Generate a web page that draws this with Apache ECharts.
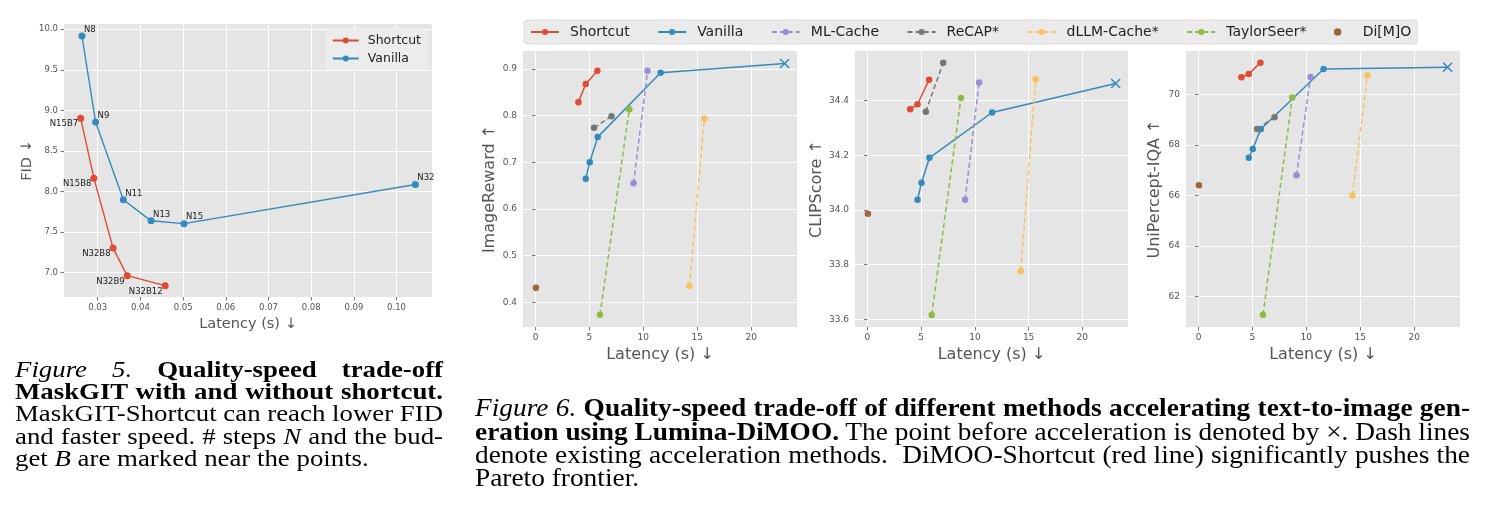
<!DOCTYPE html>
<html>
<head>
<meta charset="utf-8">
<script src="https://cdn.jsdelivr.net/npm/echarts@6/dist/echarts.min.js"></script>
<style>
html, body { margin: 0; padding: 0; background: #fff; }
#wrap { position: relative; width: 1487px; height: 524px; overflow: hidden; }
#chart { position: absolute; left: 0; top: 0; width: 1487px; height: 524px; }
.cap { position: absolute; font-family: 'Liberation Serif', 'Times New Roman', serif; color: #000; transform-origin: 0 0; }
.cap .ln { white-space: nowrap; }
.cap .ln.j { text-align: justify; text-align-last: justify; }
</style>
</head>
<body>
<div id="wrap">
  <div id="chart"></div>
  <div class="cap" id="cap5" style="left:15px; top:358.8px; width:428px; font-size:23px; line-height:22.3px;">
    <div class="ln"><span><i>Figure 5.</i> <b>Quality-speed trade-off</b></span></div>
    <div class="ln"><span><b>MaskGIT with and without shortcut.</b></span></div>
    <div class="ln"><span>MaskGIT-Shortcut can reach lower FID</span></div>
    <div class="ln"><span>and faster speed. # steps <i>N</i> and the bud-</span></div>
    <div class="ln last"><span>get <i>B</i> are marked near the points.</span></div>
  </div>
  <div class="cap" id="cap6" style="left:475px; top:396.4px; width:995px; font-size:25px; line-height:23.3px;">
    <div class="ln"><span><i>Figure 6.</i> <b>Quality-speed trade-off of different methods accelerating text-to-image gen-</b></span></div>
    <div class="ln"><span><b>eration using Lumina-DiMOO.</b> The point before acceleration is denoted by ×. Dash lines</span></div>
    <div class="ln"><span>denote existing acceleration methods.&nbsp; DiMOO-Shortcut (red line) significantly pushes the</span></div>
    <div class="ln last"><span>Pareto frontier.</span></div>
  </div>
</div>
<script>
// ---- Figure 5: MaskGIT, latency (s) vs FID ----
const f5ShortcutLatency = [0.0260, 0.0291, 0.0336, 0.0369, 0.0458];
const f5ShortcutFID = [8.904, 8.165, 7.303, 6.963, 6.840];
const f5ShortcutTags = ['N15B7', 'N15B8', 'N32B8', 'N32B9', 'N32B12'];
const f5VanillaLatency = [0.0263, 0.0295, 0.0360, 0.0425, 0.0502, 0.1044];
const f5VanillaFID = [9.917, 8.858, 7.898, 7.639, 7.604, 8.086];
const f5VanillaTags = ['N8', 'N9', 'N11', 'N13', 'N15', 'N32'];
const f5XTicks = [0.03, 0.04, 0.05, 0.06, 0.07, 0.08, 0.09, 0.10];
const f5YTicks = [7.0, 7.5, 8.0, 8.5, 9.0, 9.5, 10.0];

// ---- Figure 6: Lumina-DiMOO, latency (s) per method ----
const latShortcut = [3.98, 4.66, 5.74];
const latVanilla = [4.66, 5.03, 5.77, 11.6, 23.1];
const latMLCache = [9.09, 10.39];
const latReCAP = [5.43, 7.05];
const latDLLM = [14.27, 15.66];
const latTaylor = [5.98, 8.70];
const latDiMO = [0.04];

// ImageReward
const irShortcut = [0.829, 0.868, 0.896];
const irVanilla = [0.665, 0.700, 0.754, 0.892, 0.912];
const irMLCache = [0.655, 0.896];
const irReCAP = [0.774, 0.799];
const irDLLM = [0.435, 0.794];
const irTaylor = [0.373, 0.814];
const irDiMO = [0.431];

// CLIPScore
const csShortcut = [34.369, 34.387, 34.477];
const csVanilla = [34.038, 34.100, 34.191, 34.357, 34.463];
const csMLCache = [34.038, 34.467];
const csReCAP = [34.360, 34.539];
const csDLLM = [33.777, 34.479];
const csTaylor = [33.616, 34.410];
const csDiMO = [33.986];

// UniPercept-IQA
const uqShortcut = [70.67, 70.80, 71.25];
const uqVanilla = [67.49, 67.84, 68.62, 71.00, 71.07];
const uqMLCache = [66.80, 70.68];
const uqReCAP = [68.63, 69.09];
const uqDLLM = [66.00, 70.75];
const uqTaylor = [61.28, 69.87];
const uqDiMO = [66.40];

const latTicks = [0, 5, 10, 15, 20];
const irTicks = [0.4, 0.5, 0.6, 0.7, 0.8, 0.9];
const csTicks = [33.6, 33.8, 34.0, 34.2, 34.4];
const uqTicks = [62, 64, 66, 68, 70];

const C = {
    red: '#E24A33', blue: '#348ABD', purple: '#988ED5', gray: '#777777',
    yellow: '#FBC15E', green: '#8EBA42', brown: '#8B4513'
};
const FONT = 'DejaVu Sans';
const X_MARK = 'path://M0,0L10,10M10,0L0,10';

function valueAxis(grid, min, max, ticks, step, digits, fontSize, name, nameGap, nameSize) {
    return {
        type: 'value', gridIndex: grid, min: min, max: max,
        minInterval: step, maxInterval: step,
        name: name, nameLocation: 'middle', nameGap: nameGap,
        nameTextStyle: { color: '#555', fontSize: nameSize, fontFamily: FONT },
        axisLine: { show: false },
        axisTick: { show: true, length: 3.5, customValues: ticks, lineStyle: { color: '#555', width: 0.8 } },
        axisLabel: {
            color: '#555', fontSize: fontSize, fontFamily: FONT, margin: 6,
            customValues: ticks, formatter: v => v.toFixed(digits)
        },
        splitLine: { show: true, lineStyle: { color: '#fff', width: 1 } }
    };
}

function taggedPoints(xs, ys, tags, below) {
    return xs.map((x, i) => ({
        value: [x, ys[i]],
        label: {
            show: true, formatter: tags[i], position: 'inside',
            align: below ? 'right' : 'left', verticalAlign: 'middle',
            offset: below ? [-2.5, 5.8] : [2, -6.5],
            color: '#222', fontSize: 8.5, fontFamily: FONT
        }
    }));
}

function lineSeries(name, grid, xs, ys, color, dashed, lastIsX) {
    const data = xs.map((x, i) => {
        if (lastIsX && i === xs.length - 1) {
            return {
                value: [x, ys[i]], symbol: X_MARK, symbolSize: 9,
                itemStyle: { color: color, borderColor: color, borderWidth: 1.5 }
            };
        }
        return [x, ys[i]];
    });
    return {
        name: name, type: 'line', xAxisIndex: grid, yAxisIndex: grid,
        data: data, symbol: 'circle', symbolSize: 6.5,
        itemStyle: { color: color },
        lineStyle: { color: color, width: 1.5, type: dashed ? [5, 3] : 'solid' },
        emphasis: { disabled: true }, animation: false
    };
}

function dotSeries(name, grid, xs, ys, color) {
    return {
        name: name, type: 'scatter', xAxisIndex: grid, yAxisIndex: grid,
        data: xs.map((x, i) => [x, ys[i]]), symbol: 'circle', symbolSize: 6.5,
        itemStyle: { color: color }, emphasis: { disabled: true }, animation: false
    };
}

function panelSeries(grid, s, v, ml, rc, dl, ts, dm) {
    return [
        lineSeries('Shortcut', grid, latShortcut, s, C.red, false),
        lineSeries('Vanilla', grid, latVanilla, v, C.blue, false, true),
        lineSeries('ML-Cache', grid, latMLCache, ml, C.purple, true),
        lineSeries('ReCAP*', grid, latReCAP, rc, C.gray, true),
        lineSeries('dLLM-Cache*', grid, latDLLM, dl, C.yellow, true),
        lineSeries('TaylorSeer*', grid, latTaylor, ts, C.green, true),
        dotSeries('Di[M]O', grid, latDiMO, dm, C.brown)
    ];
}

const gridBase = { show: true, backgroundColor: '#E5E5E5', borderWidth: 0 };

const option = {
    animation: false,
    grid: [
        Object.assign({ left: 64, top: 24, width: 368, height: 273 }, gridBase),
        Object.assign({ left: 523, top: 51, width: 274, height: 276 }, gridBase),
        Object.assign({ left: 855, top: 51, width: 273, height: 276 }, gridBase),
        Object.assign({ left: 1186, top: 51, width: 274, height: 276 }, gridBase)
    ],
    xAxis: [
        valueAxis(0, 0.0221, 0.1083, f5XTicks, 0.01, 2, 8.5, 'Latency (s) \u2193', 17, 14.5),
        valueAxis(1, -1.16, 24.25, latTicks, 5, 0, 9, 'Latency (s) \u2193', 19, 16),
        valueAxis(2, -1.16, 24.25, latTicks, 5, 0, 9, 'Latency (s) \u2193', 19, 16),
        valueAxis(3, -1.16, 24.25, latTicks, 5, 0, 9, 'Latency (s) \u2193', 19, 16)
    ],
    yAxis: [
        valueAxis(0, 6.70, 10.065, f5YTicks, 0.5, 1, 8.5, 'FID \u2193', 29, 14.5),
        valueAxis(1, 0.347, 0.9386, irTicks, 0.1, 1, 9, 'ImageReward \u2191', 25, 16),
        valueAxis(2, 33.572, 34.582, csTicks, 0.2, 1, 9, 'CLIPScore \u2191', 27, 16),
        valueAxis(3, 60.80, 71.71, uqTicks, 2, 0, 9, 'UniPercept-IQA \u2191', 23, 16)
    ],
    legend: [
        {
            data: ['Shortcut', 'Vanilla'], orient: 'vertical', right: 1060, top: 29,
            itemWidth: 26, itemHeight: 7.5, itemGap: 5, padding: [5, 6, 5, 5],
            backgroundColor: 'rgba(236,236,236,0.9)', borderColor: '#F0F0F0', borderWidth: 1, borderRadius: 3,
            textStyle: { color: '#222', fontSize: 12.5, fontFamily: FONT, padding: [0, 0, 0, 4] },
            selectedMode: false
        },
        {
            data: ['Shortcut', 'Vanilla', 'ML-Cache', 'ReCAP*', 'dLLM-Cache*', 'TaylorSeer*', 'Di[M]O'],
            orient: 'horizontal', left: 524, top: 20,
            itemWidth: 28, itemHeight: 7.5, itemGap: 27.5, padding: [5, 6],
            backgroundColor: 'rgba(229,229,229,0.8)', borderColor: '#DDDDDD', borderWidth: 1, borderRadius: 3,
            textStyle: { color: '#222', fontSize: 14, fontFamily: FONT, padding: [0, 0, 0, 6] },
            selectedMode: false
        }
    ],
    series: [
        {
            name: 'Shortcut', type: 'line', xAxisIndex: 0, yAxisIndex: 0,
            data: taggedPoints(f5ShortcutLatency, f5ShortcutFID, f5ShortcutTags, true),
            symbol: 'circle', symbolSize: 7, itemStyle: { color: C.red },
            lineStyle: { color: C.red, width: 1.4 }, emphasis: { disabled: true }
        },
        {
            name: 'Vanilla', type: 'line', xAxisIndex: 0, yAxisIndex: 0,
            data: taggedPoints(f5VanillaLatency, f5VanillaFID, f5VanillaTags, false),
            symbol: 'circle', symbolSize: 7, itemStyle: { color: C.blue },
            lineStyle: { color: C.blue, width: 1.4 }, emphasis: { disabled: true }
        }
    ]
        .concat(panelSeries(1, irShortcut, irVanilla, irMLCache, irReCAP, irDLLM, irTaylor, irDiMO))
        .concat(panelSeries(2, csShortcut, csVanilla, csMLCache, csReCAP, csDLLM, csTaylor, csDiMO))
        .concat(panelSeries(3, uqShortcut, uqVanilla, uqMLCache, uqReCAP, uqDLLM, uqTaylor, uqDiMO))
};

const chart = echarts.init(document.getElementById('chart'));
chart.setOption(option);

// captions: scale the lines to the column width, then justify
function fitCaption(id, targetW) {
    const box = document.getElementById(id);
    let maxW = 0;
    box.querySelectorAll('.ln:not(.last) span').forEach(s => {
        maxW = Math.max(maxW, s.getBoundingClientRect().width);
    });
    const k = Math.min(1.3, targetW / maxW);
    box.style.width = (targetW / k) + 'px';
    box.style.transform = 'scaleX(' + k + ')';
    box.querySelectorAll('.ln:not(.last)').forEach(l => l.classList.add('j'));
}
fitCaption('cap5', 428);
fitCaption('cap6', 995);
</script>
</body>
</html>
